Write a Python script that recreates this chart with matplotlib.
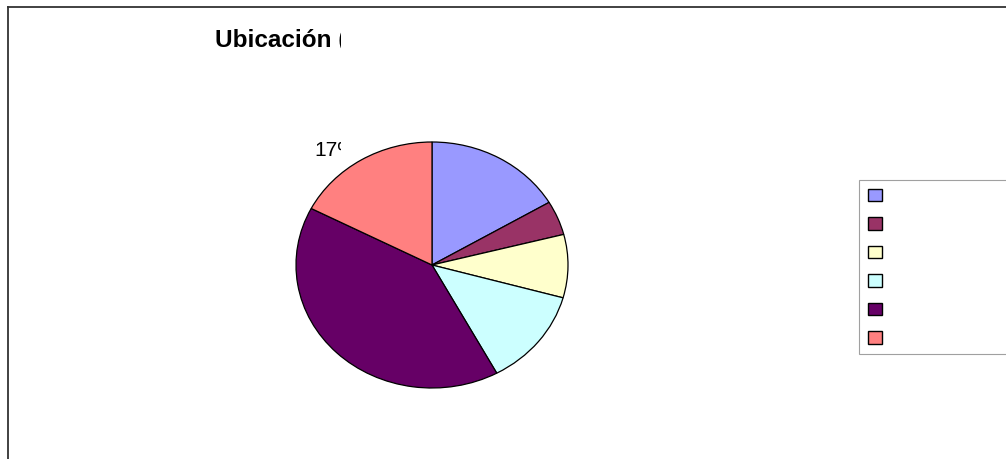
import matplotlib.pyplot as plt
from matplotlib.lines import Line2D
from matplotlib.patches import Patch
from matplotlib.transforms import Bbox
import numpy as np

# porcentajes por ubicación (sentido horario desde arriba)
valores = [16.5, 4.5, 8.3, 12.8, 40.5, 17.4]
colores = ["#9999FF", "#993366", "#FFFFCC", "#CCFFFF", "#660066", "#FF8080"]
titulo = "Ubicación ("

W, H = 1006, 459
fig = plt.figure(figsize=(W / 100, H / 100), dpi=100)
fig.patch.set_facecolor("white")

# marco del gráfico (sale por la derecha y por abajo)
fig.add_artist(Line2D([7.5 / W, 7.5 / W], [0, 1 - 7 / H], transform=fig.transFigure,
                      color="#333333", lw=1.3))
fig.add_artist(Line2D([7.5 / W, 1], [1 - 7 / H, 1 - 7 / H], transform=fig.transFigure,
                      color="#333333", lw=1.3))

# zona visible de los textos
recorte = Bbox.from_extents(0, H - 175, 341, H)

t = fig.text(215 / W, 1 - 40 / H, titulo, fontsize=17.5, fontweight="bold",
             family="Liberation Sans", va="center", ha="left")
t.set_clip_box(recorte)
t.set_clip_on(True)

# torta
ax = fig.add_axes([296 / W, (H - 388) / H, 272 / W, 246 / H])
cunas, _ = ax.pie(valores, colors=colores, startangle=90, counterclock=False,
                  radius=1, wedgeprops=dict(edgecolor="black", linewidth=0.9))
ax.set_aspect("auto")
ax.set_xlim(-1, 1)
ax.set_ylim(-1, 1)
ax.axis("off")

total = sum(valores)
for c, v in zip(cunas, valores):
    ang = np.deg2rad((c.theta1 + c.theta2) / 2)
    x, y = 1.05 * np.cos(ang), 1.05 * np.sin(ang)
    et = ax.text(x - (0.008 if x < 0 else 0), y - (0.04 if y > 0 else 0),
                 f"{v / total * 100:.0f}%", fontsize=15, family="Liberation Sans",
                 ha="left" if x > 0 else "right", va="bottom" if y > 0 else "top")
    et.set_clip_box(recorte)
    et.set_clip_on(True)

# leyenda
manejadores = [Patch(facecolor=col, edgecolor="black", lw=1) for col in colores]
ley = fig.legend(manejadores, [""] * len(colores), loc="upper left",
                 bbox_to_anchor=(859 / W, 0, 200 / W, 1 - 179.5 / H), mode="expand",
                 borderaxespad=0, fontsize=10, handlelength=1.0, handleheight=1.0,
                 labelspacing=1.05, borderpad=0.65, handletextpad=0.5, fancybox=False,
                 framealpha=1, edgecolor="#a0a0a0")
ley.get_frame().set_linewidth(0.8)

fig.savefig("out.png", dpi=100, facecolor="white")
